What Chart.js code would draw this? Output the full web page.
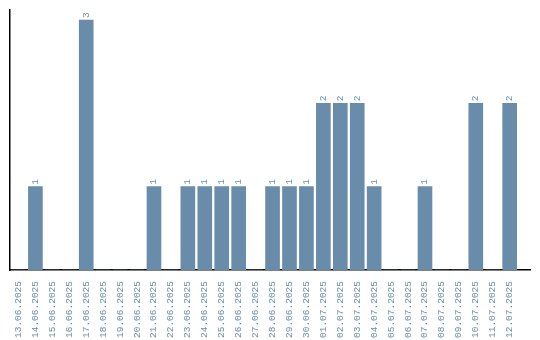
<!DOCTYPE html>
<html>
<head>
<meta charset="utf-8">
<script src="https://cdn.jsdelivr.net/npm/chart.js@4"></script>
<style>
  html, body { margin: 0; padding: 0; background: #fff; }
  #wrap { width: 540px; height: 340px; }
</style>
</head>
<body>
<div id="wrap"><canvas id="chart" width="540" height="340"></canvas></div>
<script>
// one count per day, 13.06.2025 .. 12.07.2025
const days = [
  "13.06.2025", "14.06.2025", "15.06.2025", "16.06.2025", "17.06.2025",
  "18.06.2025", "19.06.2025", "20.06.2025", "21.06.2025", "22.06.2025",
  "23.06.2025", "24.06.2025", "25.06.2025", "26.06.2025", "27.06.2025",
  "28.06.2025", "29.06.2025", "30.06.2025", "01.07.2025", "02.07.2025",
  "03.07.2025", "04.07.2025", "05.07.2025", "06.07.2025", "07.07.2025",
  "08.07.2025", "09.07.2025", "10.07.2025", "11.07.2025", "12.07.2025"
];
const counts = [
  0, 1, 0, 0, 3,
  0, 0, 0, 1, 0,
  1, 1, 1, 1, 0,
  1, 1, 1, 2, 2,
  2, 1, 0, 0, 1,
  0, 0, 2, 0, 2
];

const BAR = "#6a8cab";
const FONT = "'Liberation Mono', monospace";

// small labels above each bar, turned to read upwards
const barLabels = {
  id: "barLabels",
  afterDatasetsDraw(chart) {
    const ctx = chart.ctx;
    const meta = chart.getDatasetMeta(0);
    ctx.save();
    ctx.fillStyle = BAR;
    ctx.font = "9.5px " + FONT;
    ctx.textAlign = "left";
    ctx.textBaseline = "middle";
    meta.data.forEach((bar, i) => {
      const v = counts[i];
      if (!v) return;
      ctx.save();
      ctx.translate(bar.x, bar.y - 2);
      ctx.rotate(-Math.PI / 2);
      ctx.fillText(String(v), 0, 0);
      ctx.restore();
    });
    ctx.restore();
  }
};

new Chart(document.getElementById("chart"), {
  type: "bar",
  data: {
    datasets: [{
      data: counts.map((c, i) => ({ x: i, y: c })),
      backgroundColor: BAR,
      barThickness: 14
    }]
  },
  options: {
    responsive: false,
    animation: false,
    layout: { padding: { left: 10, top: 10, right: 10, bottom: 0 } },
    plugins: { legend: { display: false }, tooltip: { enabled: false } },
    scales: {
      x: {
        type: "linear",
        offset: false,
        min: -0.5,
        max: 30.2,
        afterBuildTicks: s => { s.ticks = days.map((d, i) => ({ value: i })); },
        afterFit: s => { s.height = 70; },
        grid: { display: false },
        border: { color: "#000", width: 1.5 },
        ticks: {
          autoSkip: false,
          minRotation: 90,
          maxRotation: 90,
          padding: 3,
          color: BAR,
          font: { family: FONT, size: 9.5 },
          callback: v => days[v]
        }
      },
      y: {
        min: 0,
        max: 3.12,
        afterFit: s => { s.width = 0; },
        grid: { display: false },
        border: { color: "#000", width: 1.5 },
        ticks: { display: false }
      }
    }
  },
  plugins: [barLabels]
});
</script>
</body>
</html>
